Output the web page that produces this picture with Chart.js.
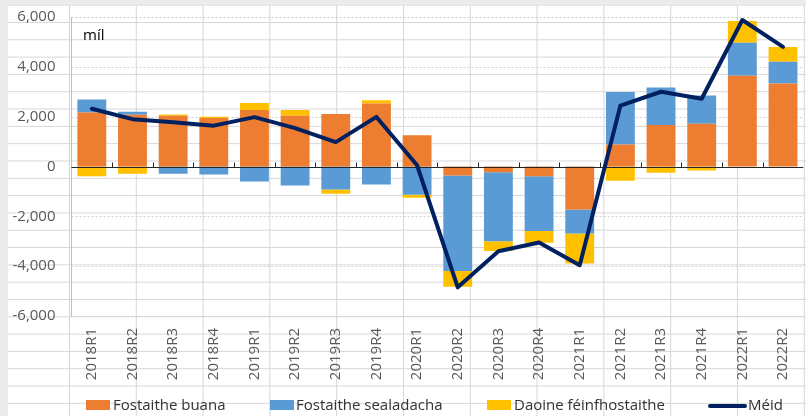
<!DOCTYPE html>
<html>
<head>
<meta charset="utf-8">
<script src="https://cdn.jsdelivr.net/npm/chart.js@4.4.1/dist/chart.umd.min.js"></script>
<style>
  html, body { margin: 0; padding: 0; }
  body { width: 806px; height: 416px; overflow: hidden; position: relative; background: #fff; font-family: "Open Sans", sans-serif; }
  #sheet {
    position: absolute; left: 0; top: 0; width: 806px; height: 416px;
    background-image:
      linear-gradient(to bottom, #d6d6d6 1px, transparent 1px),
      linear-gradient(to right, #d6d6d6 1px, transparent 1px);
    background-size: 100% 17.32px, 66.8px 100%;
    background-position: 0 4.68px, 2.2px 0;
  }
  #bandTop { position: absolute; left: 0; top: 0; width: 806px; height: 5px; background: #ebebeb; }
  #bandLeft { position: absolute; left: 0; top: 0; width: 8px; height: 416px; background: #ebebeb; }
  #wrap { position: absolute; left: 0; top: -8px; width: 813px; height: 390px; }
  #legend { position: absolute; left: 0; top: 0; width: 806px; height: 416px; pointer-events: none; }
  .box { position: absolute; top: 400px; width: 24px; height: 10px; }
  .lbl { position: absolute; top: 394px; font-size: 15px; line-height: 20px; color: #333; white-space: nowrap; }
  .ln { position: absolute; top: 404px; height: 4px; width: 39px; background: #002060; border-radius: 2px; }
</style>
</head>
<body>
<div id="sheet"></div>
<div id="bandTop"></div>
<div id="bandLeft"></div>
<div id="wrap"><canvas id="chart"></canvas></div>
<div id="legend">
  <div class="box" style="left:86px;background:#ED7D31"></div>
  <div class="lbl" style="left:113px">Fostaithe buana</div>
  <div class="box" style="left:270px;background:#5B9BD5"></div>
  <div class="lbl" style="left:296px">Fostaithe sealadacha</div>
  <div class="box" style="left:487px;background:#FFC000"></div>
  <div class="lbl" style="left:514px">Daoine féinfhostaithe</div>
  <div class="ln" style="left:708px"></div>
  <div class="lbl" style="left:748px">Méid</div>
</div>
<script>
const labels = ["2018R1", "2018R2", "2018R3", "2018R4", "2019R1", "2019R2", "2019R3", "2019R4",
  "2020R1", "2020R2", "2020R3", "2020R4", "2021R1", "2021R2", "2021R3", "2021R4", "2022R1", "2022R2"];

const fostaitheBuana = [2170, 2080, 2040, 1950, 2270, 2040, 2110, 2530,
  1250, -360, -230, -390, -1730, 880, 1670, 1720, 3640, 3330];
const fostaitheSealadacha = [520, 120, -290, -320, -600, -760, -920, -720,
  -1130, -3830, -2770, -2200, -960, 2110, 1500, 1130, 1330, 870];
const daoineFeinfhostaithe = [-390, -290, 50, 50, 280, 230, -170, 130,
  -120, -640, -390, -470, -1200, -570, -250, -160, 870, 600];
const meid = [2320, 1900, 1780, 1640, 1980, 1540, 980, 1990,
  50, -4850, -3400, -3050, -3960, 2440, 3000, 2720, 5880, 4800];

const yTicks = [-6000, -4000, -2000, 0, 2000, 4000, 6000];

/* ================= PLUGIN ================= */

const sheetAxis = {
  id: "sheetAxis",
  beforeDatasetsDraw(chart) {
    const { ctx, chartArea, scales: { y } } = chart;
    ctx.save();
    ctx.strokeStyle = "#cfcfcf";
    ctx.lineWidth = 1;
    ctx.setLineDash([2, 2]);
    yTicks.forEach(v => {
      if (v === 0) return;
      const py = Math.round(y.getPixelForValue(v)) + 0.5;
      ctx.beginPath();
      ctx.moveTo(chartArea.left, py);
      ctx.lineTo(chartArea.right, py);
      ctx.stroke();
    });
    ctx.restore();
  },
  beforeDatasetDraw(chart, args) {
    if (args.meta.type !== "line") return;
    const { ctx, chartArea, scales: { x, y } } = chart;
    const y0 = Math.round(y.getPixelForValue(0)) + 0.5;
    ctx.save();
    ctx.strokeStyle = "#262626";
    ctx.lineWidth = 1;
    ctx.beginPath();
    ctx.moveTo(chartArea.left, y0);
    ctx.lineTo(chartArea.right, y0);
    for (let i = 1; i < labels.length; i++) {
      const px = Math.round((x.getPixelForValue(i - 1) + x.getPixelForValue(i)) / 2) + 0.5;
      ctx.moveTo(px, y0);
      ctx.lineTo(px, y0 - 5);
    }
    ctx.stroke();
    ctx.restore();
  },
  afterDraw(chart) {
    const { ctx, chartArea } = chart;
    ctx.save();
    ctx.fillStyle = "#000";
    ctx.font = "15px 'Open Sans'";
    ctx.textBaseline = "alphabetic";
    ctx.fillText("míl", chartArea.left + 11.5, chartArea.top + 23);
    ctx.restore();
  }
};

/* ================= CHART ================= */

new Chart(document.getElementById("chart"), {
  data: {
    labels: labels,
    datasets: [
      { type: "bar", label: "Fostaithe buana", data: fostaitheBuana, backgroundColor: "#ED7D31", order: 1 },
      { type: "bar", label: "Fostaithe sealadacha", data: fostaitheSealadacha, backgroundColor: "#5B9BD5", order: 1 },
      { type: "bar", label: "Daoine féinfhostaithe", data: daoineFeinfhostaithe, backgroundColor: "#FFC000", order: 1 },
      {
        type: "line", label: "Méid", data: meid, stack: "meid", order: 0,
        borderColor: "#002060", borderWidth: 4, pointRadius: 0, tension: 0, fill: false,
        borderJoinStyle: "round", borderCapStyle: "round"
      }
    ]
  },
  options: {
    responsive: true,
    maintainAspectRatio: false,
    animation: false,
    datasets: { bar: { categoryPercentage: 1, barPercentage: 0.71 } },
    layout: { padding: { top: 8, left: 0, right: 0, bottom: 0 } },
    plugins: { legend: { display: false }, tooltip: { enabled: false } },
    scales: {
      x: {
        stacked: true,
        offset: true,
        grid: { display: false, drawTicks: false },
        border: { display: false },
        ticks: {
          autoSkip: false, minRotation: 90, maxRotation: 90, padding: 12,
          color: "#595959", font: { family: "'Open Sans'", size: 15 }
        },
        afterFit(scale) { scale.height = 66; }
      },
      y: {
        stacked: true,
        min: -6000,
        max: 6000,
        grid: { display: false, drawTicks: false },
        border: { display: true, color: "#bfbfbf", width: 1 },
        afterBuildTicks(scale) { scale.ticks = yTicks.map(v => ({ value: v })); },
        ticks: {
          padding: 16,
          color: "#595959",
          font: { family: "'Open Sans'", size: 15 },
          callback: v => v.toLocaleString("en-US")
        },
        afterFit(scale) { scale.width = 71.5; }
      }
    }
  },
  plugins: [sheetAxis]
});
</script>
</body>
</html>
